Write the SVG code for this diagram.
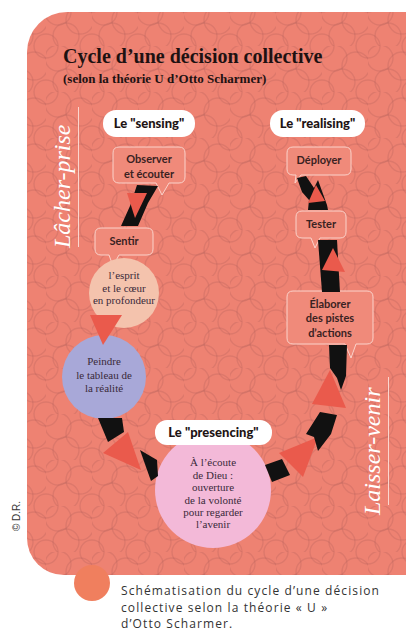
<svg xmlns="http://www.w3.org/2000/svg" width="406" height="632" viewBox="0 0 406 632">
<defs>
<style>
.bub{fill:#f08a7a;stroke:#fbd3cb;stroke-width:1}
.bt{font-family:Lato,"Open Sans",sans-serif;font-weight:bold;font-size:11px;fill:#3a2222;text-anchor:middle}
.pill{fill:#ffffff}
.pt{font-family:Lato,"Open Sans",sans-serif;font-weight:900;font-size:13px;fill:#1e1414;text-anchor:middle}
.ct{font-family:"Liberation Serif",serif;font-size:11px;fill:#3a2a3a;text-anchor:middle}
.blk{fill:#111111}
.red{fill:#ea5a4c}
.side{font-family:"Liberation Serif",serif;font-style:italic;font-size:24px;fill:#ffffff}
.cap{font-family:"Open Sans",sans-serif;font-size:12px;letter-spacing:1.1px;fill:#333333}
</style>
<pattern id="tex" width="46" height="46" patternUnits="userSpaceOnUse">
<g fill="none" stroke="#b8605a" stroke-opacity="0.3" stroke-width="1.4">
<circle cx="12" cy="12" r="13"/>
<circle cx="34" cy="20" r="14"/>
<circle cx="20" cy="36" r="13"/>
<circle cx="46" cy="46" r="12"/>
<circle cx="0" cy="46" r="12"/>
<circle cx="46" cy="0" r="12"/>
<circle cx="0" cy="0" r="12"/>
</g>
</pattern>
<clipPath id="cardclip"><path d="M27,52 A40,40 0 0 1 67,12 L406,12 L406,575 L64,575 A37,37 0 0 1 27,538 Z"/></clipPath>
</defs>

<g id="card">
<path d="M27,52 A40,40 0 0 1 67,12 L406,12 L406,575 L64,575 A37,37 0 0 1 27,538 Z" fill="#ee8272"/>
<rect x="0" y="0" width="406" height="632" fill="url(#tex)" clip-path="url(#cardclip)"/>
</g>

<g id="title">
<text x="63" y="63" font-family="Liberation Serif,serif" font-weight="bold" font-size="20" fill="#1e1212">Cycle d’une décision collective</text>
<text x="63" y="83" font-family="Liberation Serif,serif" font-weight="bold" font-size="13" fill="#1e1212">(selon la théorie U d’Otto Scharmer)</text>
</g>

<g id="side-left">
<text class="side" transform="translate(70,248) rotate(-90)">Lâcher-prise</text>
<line x1="78.5" y1="107" x2="78.5" y2="247" stroke="#fbd6cf" stroke-width="1"/>
</g>
<g id="side-right">
<text class="side" transform="translate(380,515) rotate(-90)">Laisser-venir</text>
<line x1="388.5" y1="377" x2="388.5" y2="505" stroke="#fbd6cf" stroke-width="1"/>
</g>

<g id="pill-sensing"><rect class="pill" x="103" y="110" width="92" height="27" rx="13"/><text class="pt" x="149" y="128">Le "sensing"</text></g>
<g id="pill-realising"><rect class="pill" x="270" y="110" width="95" height="27" rx="13"/><text class="pt" x="317.5" y="128">Le "realising"</text></g>

<g id="n-observer">
<path class="bub" d="M119,147 H179 Q185,147 185,153 V177 Q185,183 179,183 H169 L162,195 L156,183 H119 Q113,183 113,177 V153 Q113,147 119,147 Z"/>
<text class="bt" x="149" y="163">Observer</text>
<text class="bt" x="149" y="178">et écouter</text>
</g>
<g id="n-sentir">
<path class="bub" d="M101,228 H147 Q153,228 153,234 V249 Q153,255 147,255 H119 L113,266 L109,255 H101 Q95,255 95,249 V234 Q95,228 101,228 Z"/>
<text class="bt" x="124" y="245">Sentir</text>
</g>
<g id="n-esprit">
<circle cx="124" cy="293" r="35" fill="#f4c3ad"/>
<text class="ct" x="124" y="279" font-size="10.5">l’esprit</text>
<text class="ct" x="124" y="292" font-size="10.5">et le cœur</text>
<text class="ct" x="124" y="304" font-size="10.5">en profondeur</text>
</g>
<g id="n-peindre">
<circle cx="104" cy="377" r="42" fill="#a8a8d8"/>
<text class="ct" x="104" y="365" font-size="11.5">Peindre</text>
<text class="ct" x="104" y="379" font-size="11.5">le tableau de</text>
<text class="ct" x="104" y="392" font-size="11.5">la réalité</text>
</g>
<g id="n-ecoute">
<circle cx="213" cy="490" r="58" fill="#f3b9d8"/>
<text class="ct" x="213" y="466">À l’écoute</text>
<text class="ct" x="213" y="479">de Dieu :</text>
<text class="ct" x="213" y="491">ouverture</text>
<text class="ct" x="213" y="504">de la volonté</text>
<text class="ct" x="213" y="516">pour regarder</text>
<text class="ct" x="213" y="528">l’avenir</text>
</g>
<g id="pill-presencing"><rect class="pill" x="155" y="420" width="117" height="25" rx="12"/><text class="pt" x="213.5" y="437">Le "presencing"</text></g>

<g id="n-elaborer">
<path class="bub" d="M293,291 H367 Q373,291 373,297 V338 Q373,344 367,344 H356 L351,358 L345,344 H293 Q287,344 287,338 V297 Q287,291 293,291 Z"/>
<text class="bt" x="330" y="308">Élaborer</text>
<text class="bt" x="330" y="322">des pistes</text>
<text class="bt" x="330" y="337">d’actions</text>
</g>
<g id="n-tester">
<path class="bub" d="M302,211 H340 Q346,211 346,217 V232 Q346,238 340,238 H320 L315,248 L311,238 H302 Q296,238 296,232 V217 Q296,211 302,211 Z"/>
<text class="bt" x="321" y="228">Tester</text>
</g>
<g id="n-deployer">
<path class="bub" d="M293,147 H345 Q351,147 351,153 V169 Q351,175 345,175 H301 L295,183 L296,175 H293 Q287,175 287,169 V153 Q287,147 293,147 Z"/>
<text class="bt" x="319" y="164">Déployer</text>
</g>

<g id="connectors">
<polygon class="blk" points="137,185 158,186 148,203 138,226 121,226 130,206"/>
<polygon class="red" points="127,193 147,193 135,218"/>
<polygon class="red" points="90,315 122,315 103,345"/>
<polygon class="blk" points="98,418 122,418 124,432 108,442"/>
<polygon class="red" points="103,453 128,432 141,470"/>
<polygon class="blk" points="140,450 157,460 158,476 151,481 146,467"/>
<polygon class="blk" points="265,465 282,459 290,475 272,482"/>
<polygon class="red" points="279,453 318,437 303,477"/>
<polygon class="blk" points="320,412 337,415 331,434 318,451 314,437 306,434"/>
<polygon class="red" points="312,404 330,370 346,408"/>
<polygon class="blk" points="329,345 347,345 346,376 341,390 337,378 330,368"/>
<polygon class="blk" points="318,240 337,240 340,292 322,292"/>
<polygon class="red" points="322,270 333,248 345,272"/>
<polygon class="blk" points="297,178 306,176 314,188 318,180 327,205 328,210 308,210 309,200 302,192"/>
<polygon class="red" points="308,203 316,185 325,201"/>
</g>

<g id="caption">
<circle cx="92" cy="583" r="18" fill="#f07f5e"/>
<text class="cap" x="121" y="595">Schématisation du cycle d’une décision</text>
<text class="cap" x="121" y="611.5">collective selon la théorie « U »</text>
<text class="cap" x="121" y="628">d’Otto Scharmer.</text>
<text transform="translate(20,516) rotate(-90)" font-family="Liberation Sans,sans-serif" font-size="10" fill="#333" text-anchor="middle">© D.R.</text>
</g>
</svg>
